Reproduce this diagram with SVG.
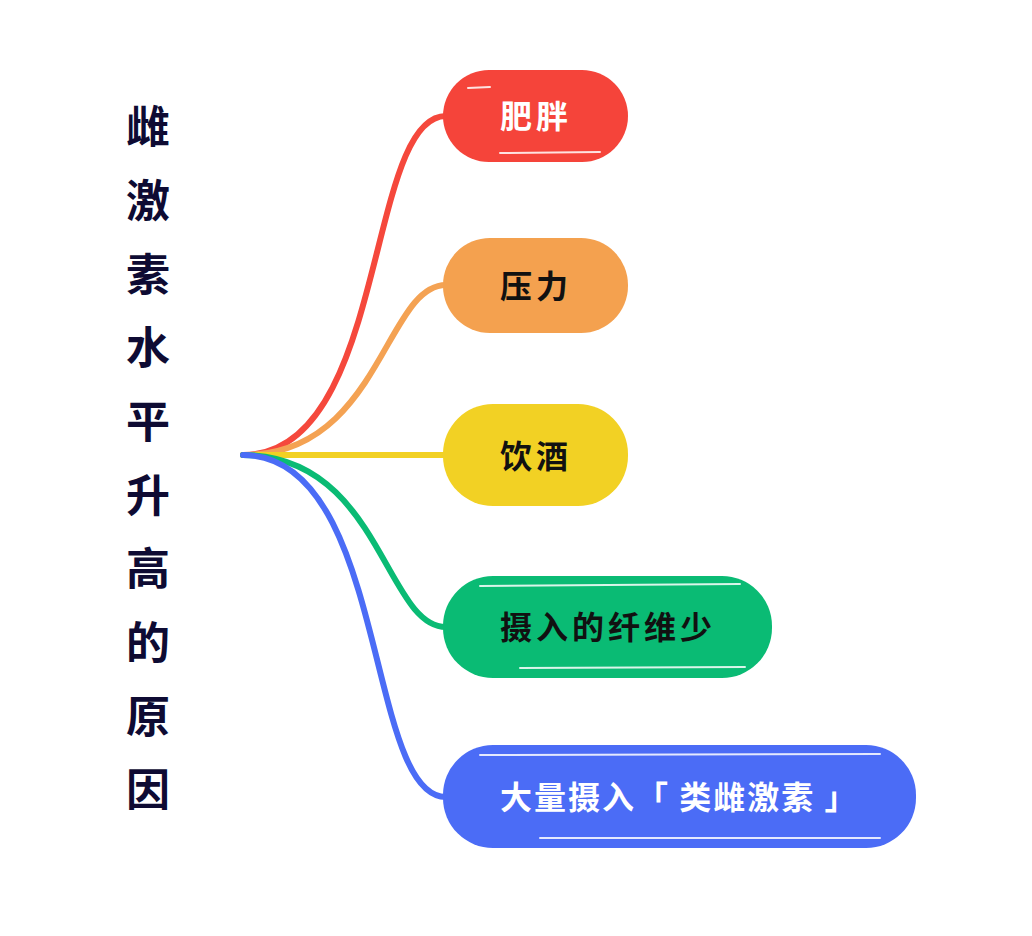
<svg xmlns="http://www.w3.org/2000/svg" width="1032" height="936" viewBox="0 0 1032 936">
<style>
.t{font-family:"Noto Sans CJK SC","Noto Sans",sans-serif;font-weight:700;}
.title{font-size:44px;fill:#0e0b33;text-anchor:middle;}
.lbl{font-size:32px;letter-spacing:4px;dominant-baseline:central;}
.w{fill:#ffffff;}
.k{fill:#111111;}
.c{fill:none;stroke-width:6;stroke-linecap:round;}
.hl{fill:none;stroke:#ffffff;stroke-width:2;stroke-linecap:round;opacity:0.85;}
</style>
<rect width="1032" height="936" fill="#ffffff"/>
<g id="title">
<text class="t title" x="148" y="143">雌</text>
<text class="t title" x="148" y="217">激</text>
<text class="t title" x="148" y="291">素</text>
<text class="t title" x="148" y="364">水</text>
<text class="t title" x="148" y="438">平</text>
<text class="t title" x="148" y="512">升</text>
<text class="t title" x="148" y="585">高</text>
<text class="t title" x="148" y="659">的</text>
<text class="t title" x="148" y="733">原</text>
<text class="t title" x="148" y="806">因</text>
</g>
<g id="connectors">
<path class="c" stroke="#F5483C" d="M243,455 C388,455 365,116 446,116"/>
<path class="c" stroke="#F4A253" d="M243,455 C380,455 385,285 446,285"/>
<path class="c" stroke="#F2D124" d="M243,455 C330,455 380,455 446,455"/>
<path class="c" stroke="#0ABB74" d="M243,455 C380,455 385,627 446,627"/>
<path class="c" stroke="#4B6CF6" d="M243,455 C388,455 365,797 446,797"/>
</g>
<g id="n1">
<rect x="443" y="70" width="185" height="92" rx="46" fill="#F5443A"/>
<path class="hl" d="M468,88 L490,87"/>
<path class="hl" d="M500,153 L600,152"/>
<text class="t lbl w" x="500" y="114">肥胖</text>
</g>
<g id="n2">
<rect x="443" y="238" width="185" height="95" rx="47" fill="#F4A14F"/>
<text class="t lbl k" x="500" y="284">压力</text>
</g>
<g id="n3">
<rect x="443" y="404" width="185" height="102" rx="50" fill="#F2D124"/>
<text class="t lbl k" x="500" y="454">饮酒</text>
</g>
<g id="n4">
<rect x="443" y="576" width="329" height="102" rx="50" fill="#0ABB74"/>
<path class="hl" d="M480,586 L740,584"/>
<path class="hl" d="M520,668 L745,667"/>
<text class="t lbl k" x="500" y="625">摄入的纤维少</text>
</g>
<g id="n5">
<rect x="443" y="745" width="473" height="103" rx="50" fill="#4B6CF6"/>
<path class="hl" d="M480,755 L880,754"/>
<path class="hl" d="M540,838 L880,838"/>
<text class="t lbl w" x="500" y="795" style="letter-spacing:2px">大量摄入「 类雌激素 」</text>
</g>
</svg>
